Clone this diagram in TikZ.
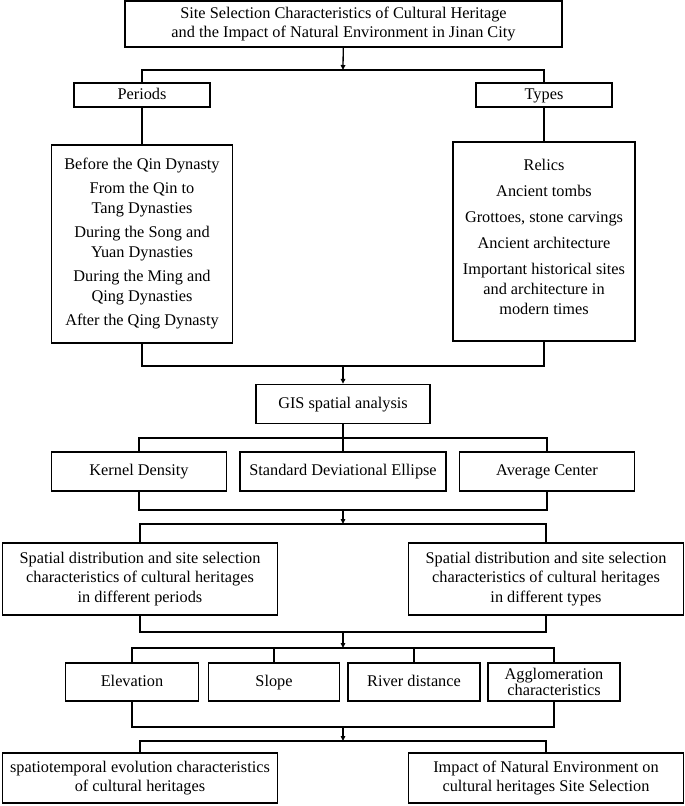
\documentclass[tikz,border=0pt]{standalone}
\usepackage{fontspec}
\setmainfont{Liberation Serif}
\usetikzlibrary{arrows.meta}

\begin{document}
\begin{tikzpicture}[x=1pt,y=-1pt,
    cbox/.style={draw, line width=1.3pt, align=center, inner sep=0pt,
                 font=\fontsize{16.3}{19.5}\selectfont},
    sbox/.style={cbox, text height=11.5pt, text depth=3pt},
    lbox/.style={cbox, font=\fontsize{16.3}{20}\selectfont},
    bus/.style={line width=1.3pt},
    arr/.style={line width=1.3pt, -{Triangle[length=5pt,width=4.5pt]}}]
    \useasboundingbox (0,0) rectangle (685,806);

    %Title
    \node[cbox, minimum width=437pt, minimum height=46pt] (title) at (343.5,24)
        {Site Selection Characteristics of Cultural Heritage\\
         and the Impact of Natural Environment in Jinan City};

    %Periods and types
    \node[sbox, minimum width=136pt, minimum height=24pt] (periods) at (142,95) {Periods};
    \node[sbox, minimum width=136pt, minimum height=24pt] (types) at (544,95) {Types};

    \node[lbox, minimum width=181pt, minimum height=198pt] (perlist) at (142,244)
        {Before the Qin Dynasty\\[4pt]
         From the Qin to\\ Tang Dynasties\\[4pt]
         During the Song and\\ Yuan Dynasties\\[4pt]
         During the Ming and\\ Qing Dynasties\\[4pt]
         After the Qing Dynasty};
    \node[lbox, minimum width=182pt, minimum height=199pt] (typlist) at (544,241.5)
        {Relics\\[6pt]
         Ancient tombs\\[6pt]
         Grottoes, stone carvings\\[6pt]
         Ancient architecture\\[6pt]
         Important historical sites\\ and architecture in\\ modern times\\[-10pt]
         \phantom{x}};

    %GIS
    \node[sbox, minimum width=174pt, minimum height=39pt] (gis) at (343,404) {GIS spatial analysis};

    \node[sbox, minimum width=175pt, minimum height=39pt] (kd) at (139,471.5) {Kernel Density};
    \node[sbox, minimum width=206pt, minimum height=39pt] (sde) at (343,471.5) {Standard Deviational Ellipse};
    \node[sbox, minimum width=175pt, minimum height=39pt] (avg) at (547,471.5) {Average Center};

    %Spatial distribution
    \node[cbox, minimum width=275pt, minimum height=72pt] (spl) at (140,579)
        {Spatial distribution and site selection\\
         characteristics of cultural heritages\\ in different periods};
    \node[cbox, minimum width=275pt, minimum height=72pt] (spr) at (546,579)
        {Spatial distribution and site selection\\
         characteristics of cultural heritages\\ in different types};

    %Natural factors
    \node[sbox, minimum width=133pt, minimum height=38pt] (ele) at (132,682) {Elevation};
    \node[sbox, minimum width=131pt, minimum height=38pt] (slo) at (274,682) {Slope};
    \node[sbox, minimum width=132pt, minimum height=38pt] (riv) at (414,682) {River distance};
    \node[cbox, minimum width=132pt, minimum height=38pt, font=\fontsize{16.3}{16}\selectfont] (agg) at (554,682)
        {Agglomeration\\ characteristics};

    %Results
    \node[cbox, minimum width=275pt, minimum height=50pt] (evo) at (140,778)
        {spatiotemporal evolution characteristics\\ of cultural heritages};
    \node[cbox, minimum width=275pt, minimum height=50pt] (imp) at (546,778)
        {Impact of Natural Environment on\\ cultural heritages Site Selection};

    %Bus points
    \coordinate (j1) at (343,70);
    \coordinate (j2) at (343,366);
    \coordinate (j3) at (343,438);
    \coordinate (j4) at (343,510);
    \coordinate (j5) at (343,524);
    \coordinate (j6) at (343,632);
    \coordinate (j7) at (343,648);
    \coordinate (j8) at (343,727);
    \coordinate (j9) at (343,741);

    %Connectors
    \draw[arr] (title) -- (j1);
    \draw[bus] (periods.north) |- (j1) -| (types.north);
    \draw[bus] (periods) -- (perlist);
    \draw[bus] (types) -- (types |- typlist.north);

    \draw[bus] (perlist.south) |- (j2) -| (typlist.south);
    \draw[arr] (j2) -- (gis);

    \draw[bus] (gis) -- (j3);
    \draw[bus] (kd.north) |- (j3) -| (avg.north);
    \draw[bus] (j3) -- (sde);

    \draw[bus] (kd.south) |- (j4) -| (avg.south);
    \draw[arr] (j4) -- (j5);
    \draw[bus] (spl.north) |- (j5) -| (spr.north);

    \draw[bus] (spl.south) |- (j6) -| (spr.south);
    \draw[arr] (j6) -- (j7);
    \draw[bus] (ele.north) |- (j7) -| (agg.north);
    \draw[bus] (slo.north) -- (slo.north |- j7);
    \draw[bus] (riv.north) -- (riv.north |- j7);

    \draw[bus] (ele.south) |- (j8) -| (agg.south);
    \draw[arr] (j8) -- (j9);
    \draw[bus] (evo.north) |- (j9) -| (imp.north);

\end{tikzpicture}
\end{document}
